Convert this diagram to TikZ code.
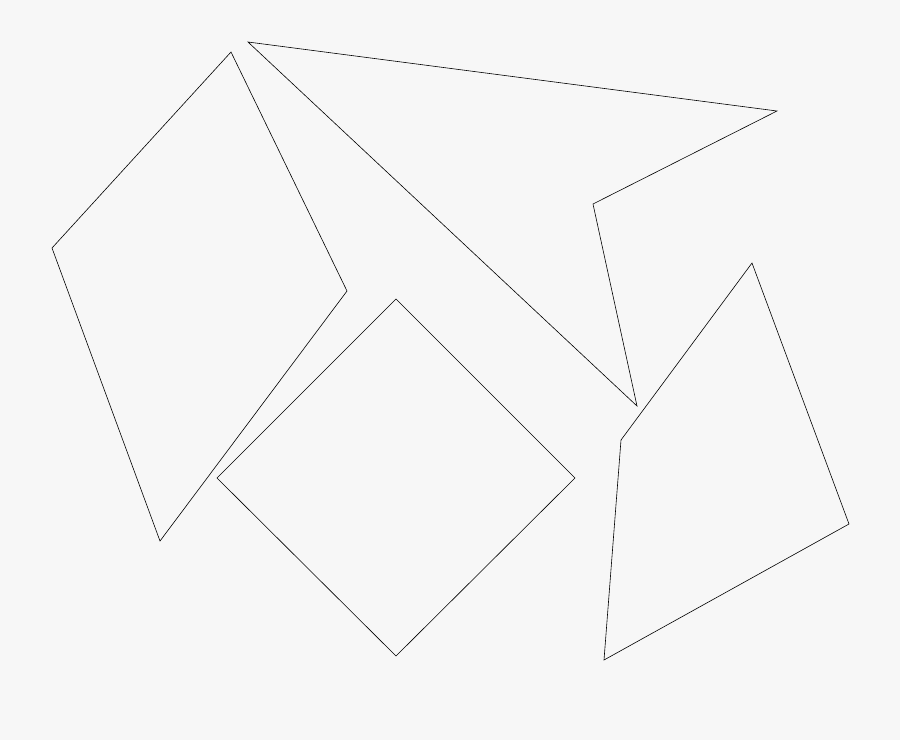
\documentclass[tikz,border=0pt]{standalone}
\usepackage{tikz}

\definecolor{paper}{HTML}{F7F7F7}

\begin{document}
\begin{tikzpicture}[x=1pt, y=-1pt, line width=0.6pt, line join=miter]
        \fill[paper] (0,0) rectangle (900,740);
        \useasboundingbox (0,0) rectangle (900,740);
        \draw (231,52) -- (347,291) -- (160,541) -- (52,248) -- cycle;
        \draw (248,42) -- (777,111) -- (593,204) -- (637,406) -- cycle;
        \draw (396,299) -- (575,478) -- (396,656) -- (217,478) -- cycle;
        \draw (752,263) -- (849,524) -- (604,660) -- (621,440) -- cycle;
    \end{tikzpicture}
\end{document}
